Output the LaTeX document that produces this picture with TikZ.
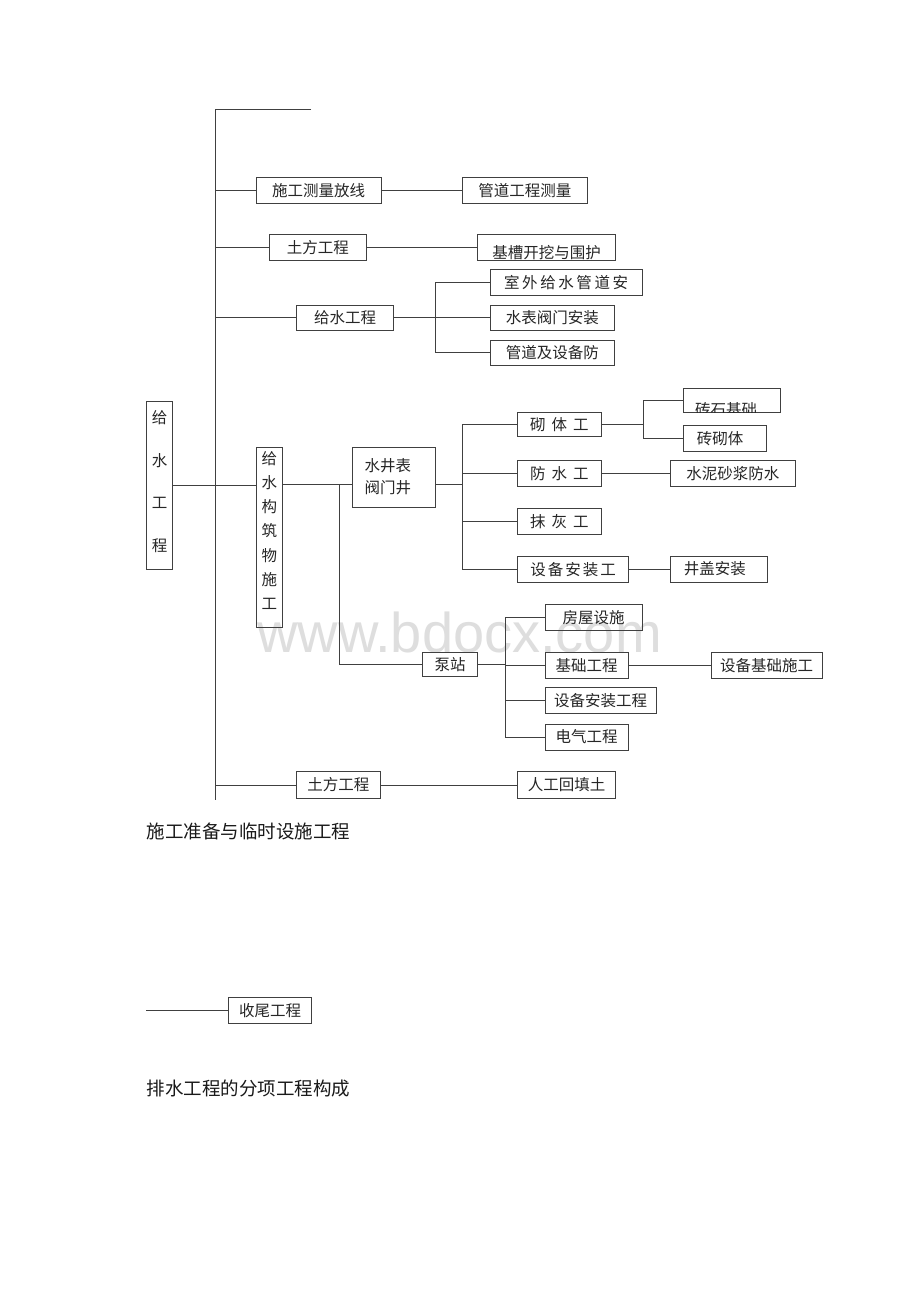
\documentclass[tikz,border=0pt]{standalone}
\usepackage{fontspec}
\newfontfamily\cjk{Noto Sans CJK SC}
\newfontfamily\wmfont{Liberation Sans}
\newcommand{\gA}{\hspace{2.6pt}}
\newcommand{\gB}{\hspace{6pt}}
\newcommand{\gC}{\hspace{2pt}}
\newcommand{\bx}[7][]{\node[box,minimum width={(#5-#3)*1pt},minimum height={(#6-#4)*1pt},#1] (#2) at ({(#3+#5)/2},{(#4+#6)/2}) {#7};}
\tikzset{
  box/.style={draw=black!75,line width=0.8pt,inner sep=0pt,outer sep=0pt,fill=none,
    text=black!85,font=\cjk\fontsize{15.5}{18}\selectfont},
  conn/.style={draw=black!75,line width=0.8pt},
  plain/.style={inner sep=0pt,text=black!90,font=\cjk\fontsize{18.5}{20}\selectfont}
}
\begin{document}
\begin{tikzpicture}[x=1pt,y=-1pt]
\useasboundingbox[fill=white] (0,0) rectangle (920,1302);
% watermark
\node[anchor=base west,inner sep=0pt,text=black!13,font=\wmfont\fontsize{56}{56}\selectfont] (wm) at (257,652) {www.bdocx.com};

% boxes
\bx{sz}{256}{177}{381}{203.3}{施工测量放线}
\bx{gdcl}{462.3}{177}{587.3}{203.3}{管道工程测量}
\bx{tf}{269}{234}{366.7}{260.7}{土方工程}
\bx[label={[yshift=-5pt,inner sep=0pt,text=black!85,font=\cjk\fontsize{15.5}{18}\selectfont]center:基槽开挖与围护}]{jc2}{477.3}{234}{615.7}{260.7}{}
\bx{gs}{296.7}{305.7}{393.7}{330}{给水工程}
\bx{sw}{490}{269}{642.3}{295.3}{室\gA{}外\gA{}给\gA{}水\gA{}管\gA{}道\gA{}安}
\bx{sb2}{490}{305.7}{614.7}{330}{水表阀门安装}
\bx{gd}{490}{340.3}{614.7}{365}{管道及设备防}
\bx[label={[yshift=4pt,inner sep=0pt,align=center,text=black!85,font=\cjk\fontsize{15.5}{42.5}\selectfont]center:给\\水\\工\\程}]{gsw}{146.7}{401.7}{172.3}{569.3}{}
\bx[label={[yshift=7pt,inner sep=0pt,align=center,text=black!85,font=\cjk\fontsize{15.5}{24.2}\selectfont]center:给\\水\\构\\筑\\物\\施\\工}]{gzw}{256}{447.7}{282.7}{627.3}{}
\bx[label={[xshift=-6pt,yshift=1pt,inner sep=0pt,align=left,text=black!85,font=\cjk\fontsize{15.5}{22.3}\selectfont]center:水井表\\阀门井}]{sjb}{352.3}{447.7}{435.3}{507.3}{}
\bx{qt}{517.7}{412.3}{601}{436.7}{砌\gB{}体\gB{}工}
\bx{fs}{517.7}{460}{601}{486.7}{防\gB{}水\gB{}工}
\bx{mh}{517.7}{508.3}{601}{534.7}{抹\gB{}灰\gB{}工}
\bx{sbg}{517.7}{556}{628.7}{582.3}{设\gC{}备\gC{}安\gC{}装\gC{}工}
\bx{zsj}{683.3}{388.3}{780.3}{412.3}{}
\begin{scope}
\clip (683.3,388.3) rectangle (780.3,412.3);
\node[inner sep=0pt,text=black!85,font=\cjk\fontsize{15.5}{18}\selectfont] (zsjt) at (726,409.5) {砖石基础};
\end{scope}
\bx[label={[xshift=-5pt,inner sep=0pt,text=black!85,font=\cjk\fontsize{15.5}{18}\selectfont]center:砖砌体}]{zqt}{683.3}{425}{766.7}{451.7}{}
\bx{sn}{670.5}{460}{795.2}{486.7}{水泥砂浆防水}
\bx[label={[xshift=-4pt,inner sep=0pt,text=black!85,font=\cjk\fontsize{15.5}{18}\selectfont]center:井盖安装}]{jg}{670.3}{556}{767.3}{582.3}{}
\bx{bz}{422.3}{652.3}{477.7}{676.6}{泵站}
\bx{fw}{545}{604}{642.3}{630.7}{房屋设施}
\bx{jc}{545}{652}{628.3}{678.3}{基础工程}
\bx{sbjc}{711}{652}{822.3}{678.3}{设备基础施工}
\bx{sbaz}{545}{687.3}{656}{713.3}{设备安装工程}
\bx{dq}{545}{724}{628.3}{750}{电气工程}
\bx{tf2}{296.7}{771.7}{380}{798.3}{土方工程}
\bx{rg}{517.7}{771.7}{615.5}{798.3}{人工回填土}
\bx{swg}{228.3}{997.3}{311.7}{1023.3}{收尾工程}

% plain texts
\node[plain,anchor=west] (t1) at (146.5,831) {施工准备与临时设施工程};
\node[plain,anchor=west] (t2) at (146.5,1088) {排水工程的分项工程构成};

% coordinates
\coordinate (mtop) at (215,109);
\coordinate (ttop) at (311,109);
\coordinate (mbot) at (215,800);
\coordinate (b1) at (435,317.8);
\coordinate (jy) at (0,484);
\coordinate (v1) at (339.3,484);
\coordinate (b2) at (462.7,484);
\coordinate (b3) at (643,424.5);
\coordinate (b4) at (505,664.5);
\coordinate (swl) at (146,1010.3);

% connectors
\draw[conn] (ttop) -- (mtop) -- (mbot);
\draw[conn] (sz.west -| mtop) -- (sz.west);
\draw[conn] (sz.east) -- (gdcl.west);
\draw[conn] (tf.west -| mtop) -- (tf.west);
\draw[conn] (tf.east) -- (jc2.west);
\draw[conn] (gs.west -| mtop) -- (gs.west);
\draw[conn] (gs.east) -- (sb2.west);
\draw[conn] (sw.west) -| (b1 |- gd.west) -- (gd.west);
\draw[conn] (gsw.east) -- (gsw.east -| gzw.west);
\draw[conn] (gzw.east |- jy) -- (sjb.west |- jy);
\draw[conn] (v1) |- (bz.west);
\draw[conn] (sjb.east |- jy) -- (b2);
\draw[conn] (qt.west) -| (b2 |- sbg.west) -- (sbg.west);
\draw[conn] (fs.west) -- (fs.west -| b2);
\draw[conn] (mh.west) -- (mh.west -| b2);
\draw[conn] (qt.east) -- (b3);
\draw[conn] (zsj.west) -| (b3 |- zqt.west) -- (zqt.west);
\draw[conn] (fs.east) -- (sn.west);
\draw[conn] (sbg.east) -- (jg.west);
\draw[conn] (bz.east) -- (b4);
\draw[conn] (fw.west) -| (b4 |- dq.west) -- (dq.west);
\draw[conn] (jc.west) -- (jc.west -| b4);
\draw[conn] (sbaz.west) -- (sbaz.west -| b4);
\draw[conn] (jc.east) -- (sbjc.west);
\draw[conn] (tf2.west -| mtop) -- (tf2.west);
\draw[conn] (tf2.east) -- (rg.west);
\draw[conn] (swl) -- (swg.west);
\end{tikzpicture}
\end{document}
